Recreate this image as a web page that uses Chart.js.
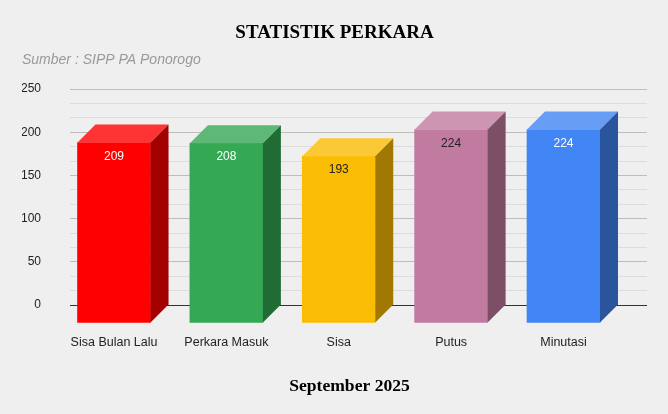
<!DOCTYPE html>
<html><head><meta charset="utf-8">
<script src="https://cdn.jsdelivr.net/npm/chart.js@4.4.1/dist/chart.umd.min.js"></script>
<style>html,body{margin:0;padding:0;background:#efefef;overflow:hidden;} #wrap{width:668px;height:414px;}</style>
</head><body><div id="wrap"><canvas id="c" width="668" height="414"></canvas></div>
<script>
const categories = ['Sisa Bulan Lalu', 'Perkara Masuk', 'Sisa', 'Putus', 'Minutasi'];
const values = [209, 208, 193, 224, 224];
const yMajorTicks = [0, 50, 100, 150, 200, 250];
const barColors = ['#ff0000', '#34a853', '#fbbc04', '#c27ba0', '#4285f4'];
const labelColors = ['#ffffff', '#ffffff', '#222222', '#222222', '#ffffff'];
const chartTitle = 'STATISTIK PERKARA';
const chartSubtitle = 'Sumber : SIPP PA Ponorogo';
const xTitle = 'September 2025';

const DEPTH = 18;
const SANS = '"Liberation Sans", Arial, sans-serif';
const SERIF = '"Liberation Serif", "Times New Roman", serif';

function hexToRgb(h) { const n = parseInt(h.slice(1), 16); return [(n >> 16) & 255, (n >> 8) & 255, n & 255]; }
function shade(h, f) { const c = hexToRgb(h).map(v => Math.round(v * f)); return `rgb(${c[0]},${c[1]},${c[2]})`; }
function tint(h, f) { const c = hexToRgb(h).map(v => Math.round(v + (255 - v) * f)); return `rgb(${c[0]},${c[1]},${c[2]})`; }
function isMajor(v) { return yMajorTicks.some(t => Math.abs(t - v) < 1e-6); }

const bar3d = {
  id: 'bar3d',
  beforeDatasetDraw(chart) { chart.ctx.save(); chart.ctx.translate(-DEPTH, DEPTH); },
  afterDatasetDraw(chart) { chart.ctx.restore(); },
  afterDatasetsDraw(chart) {
    const ctx = chart.ctx;
    const meta = chart.getDatasetMeta(0);
    ctx.save();
    meta.data.forEach((bar, i) => {
      const p = bar.getProps(['x', 'y', 'base', 'width'], true);
      const l = p.x - p.width / 2, r = p.x + p.width / 2;
      ctx.fillStyle = tint(barColors[i], 0.2);
      ctx.beginPath();
      ctx.moveTo(l - DEPTH, p.y + DEPTH); ctx.lineTo(l, p.y); ctx.lineTo(r, p.y); ctx.lineTo(r - DEPTH, p.y + DEPTH);
      ctx.closePath(); ctx.fill();
      ctx.fillStyle = shade(barColors[i], 0.64);
      ctx.beginPath();
      ctx.moveTo(r - DEPTH, p.y + DEPTH); ctx.lineTo(r, p.y); ctx.lineTo(r, p.base); ctx.lineTo(r - DEPTH, p.base + DEPTH);
      ctx.closePath(); ctx.fill();
      ctx.fillStyle = labelColors[i];
      ctx.font = '12px ' + SANS;
      ctx.textAlign = 'center'; ctx.textBaseline = 'alphabetic';
      ctx.fillText(String(values[i]), p.x - DEPTH, p.y + DEPTH + 17);
    });
    const a = chart.chartArea;
    ctx.fillStyle = '#000';
    ctx.font = 'bold 17.6px ' + SERIF;
    ctx.textAlign = 'center'; ctx.textBaseline = 'alphabetic';
    ctx.fillText(xTitle, (a.left + a.right) / 2 - DEPTH / 2, 390.7);
    ctx.restore();
  }
};

new Chart(document.getElementById('c'), {
  type: 'bar',
  data: {
    datasets: [{
      data: categories.map((c, i) => ({ x: i, y: values[i] })),
      backgroundColor: barColors,
      borderWidth: 0,
      barThickness: 73,
      clip: false
    }]
  },
  options: {
    responsive: false,
    animation: false,
    layout: { padding: { left: 22, right: 21, top: 0, bottom: 0 } },
    plugins: {
      legend: { display: false },
      tooltip: { enabled: false },
      title: {
        display: true, text: chartTitle, color: '#000',
        font: { family: SERIF, size: 19, weight: 'bold' },
        padding: { top: 21.5, bottom: 7 }
      },
      subtitle: {
        display: true, text: chartSubtitle, color: '#999999', align: 'start',
        font: { family: SANS, size: 14, style: 'italic' },
        padding: { top: 0, bottom: 21 }
      }
    },
    scales: {
      x: {
        type: 'linear', min: -0.552, max: 4.583, offset: false,
        grid: { display: false, offset: false, drawTicks: false }, border: { display: false },
        ticks: {
          stepSize: 1, includeBounds: false, autoSkip: false, maxRotation: 0,
          padding: 30.5, labelOffset: -DEPTH, color: '#222',
          font: { family: SANS, size: 12.5 },
          callback: v => Number.isInteger(v) && categories[v] !== undefined ? categories[v] : null
        },
        afterFit: s => { s.height = 109; }
      },
      y: {
        min: 0, max: 250,
        border: { display: false },
        grid: {
          drawTicks: false, lineWidth: 1,
          color: c => { const v = c.tick.value; if (Math.abs(v) < 1e-6) return '#333333'; return isMajor(v) ? '#bdbdbd' : '#dcdcdc'; }
        },
        ticks: {
          stepSize: 50 / 3, autoSkip: false, padding: 29, color: '#222',
          font: { family: SANS, size: 12 },
          callback: v => isMajor(v) ? String(Math.round(v)) : ''
        },
        afterFit: s => { s.width = 48; }
      }
    }
  },
  plugins: [bar3d]
});
</script>
</body></html>
